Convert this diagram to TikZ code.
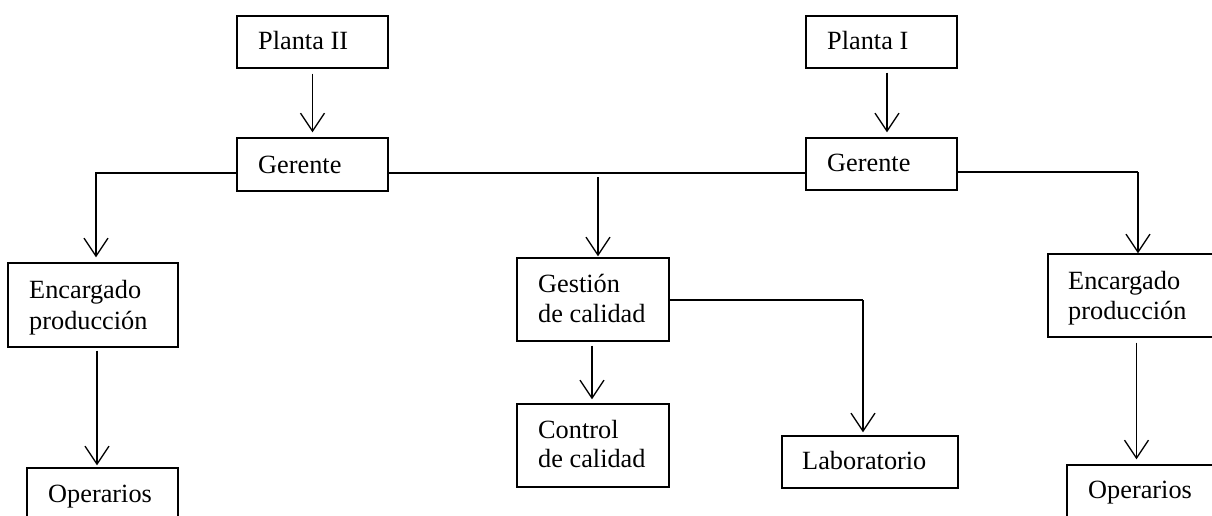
\documentclass[tikz,border=0pt]{standalone}
\usepackage{fontspec}
\setmainfont{Liberation Serif}
\usetikzlibrary{arrows.meta}
\begin{document}
\begin{tikzpicture}[x=1pt,y=-1pt,
  box/.style={draw, line width=1.4pt, rectangle, inner sep=0pt},
  lbl/.style={anchor=base west, inner sep=0pt, font=\fontsize{26.3}{30.5}\selectfont},
  arr/.style={line width=1.3pt, -{Straight Barb[length=18pt,width=24pt,line width=1.3pt]}},
  link/.style={line width=1.5pt},
  trunk/.style={line width=2.2pt}]
\useasboundingbox (0,0) rectangle (1212,516);
\clip (0,0) rectangle (1212,516);

% boxes
\node[box, minimum width=151pt, minimum height=52pt] (p2) at (312.5,42) {};
\node[box, minimum width=151pt, minimum height=53pt] (g2) at (312.5,164.5) {};
\node[box, minimum width=151pt, minimum height=52pt] (p1) at (881.5,42) {};
\node[box, minimum width=151pt, minimum height=52pt] (g1) at (881.5,164) {};
\node[box, minimum width=170pt, minimum height=84pt] (e2) at (93,305) {};
\node[box, minimum width=151pt, minimum height=70pt] (o2) at (102.5,503) {};
\node[box, minimum width=152pt, minimum height=83pt] (gc) at (593,299.5) {};
\node[box, minimum width=152pt, minimum height=83pt] (cc) at (593,445.5) {};
\node[box, minimum width=176pt, minimum height=52pt] (lab) at (870,462) {};
\node[box, minimum width=177pt, minimum height=83pt] (e1) at (1136.5,295.5) {};
\node[box, minimum width=158pt, minimum height=70pt] (o1) at (1146,500) {};

% labels, one node per line
\node[lbl] at (258,50) {Planta II};
\node[lbl] at (258,173) {Gerente};
\node[lbl] at (827,50) {Planta I};
\node[lbl] at (827,171) {Gerente};
\node[lbl] at (29,298) {Encargado};
\node[lbl] at (29,329) {producción};
\node[lbl] at (48,502) {Operarios};
\node[lbl] at (538,292) {Gestión};
\node[lbl] at (538,322) {de calidad};
\node[lbl] at (538,438) {Control};
\node[lbl] at (538,467) {de calidad};
\node[lbl] at (802,469) {Laboratorio};
\node[lbl] at (1068,289) {Encargado};
\node[lbl] at (1068,319) {producción};
\node[lbl] at (1088,498) {Operarios};

% bend points
\coordinate (kl) at (96,173);
\coordinate (kc) at (598,177);
\coordinate (kr) at (1138,172);
\coordinate (kg) at (863,300);

% connectors
\draw[arr, shorten <=5pt, shorten >=5pt] (p2.south) -- (g2.north);
\draw[arr, shorten <=4pt, shorten >=5pt] ([xshift=5.5pt]p1.south) -- ([xshift=5.5pt]g1.north);
\draw[trunk] (g2.west |- kl) -- (kl) -- ++(0,10);
\draw[arr, line width=1.6pt] (kl) -- ([xshift=3pt,yshift=5pt]e2.north);
\draw[trunk] (g2.east |- kl) -- (g1.west |- kl);
\draw[arr] (kc) -- ([xshift=5pt,yshift=1pt]gc.north);
\draw[link] (g1.east |- kr) -- (kr);
\draw[arr] (kr) -- ([xshift=1.5pt]e1.north);
\draw[link] (gc.east |- kg) -- (kg);
\draw[arr] (kg) -- ([xshift=-7pt,yshift=3pt]lab.north);
\draw[arr, shorten <=4pt, shorten >=4pt] ([xshift=-1pt]gc.south) -- ([xshift=-1pt]cc.north);
\draw[arr, shorten <=3pt, shorten >=2pt] ([xshift=4pt]e2.south) -- ([xshift=-5.5pt]o2.north);
\draw[arr, shorten <=5pt] (e1.south) -- ([xshift=-9.5pt,yshift=5pt]o1.north);
\end{tikzpicture}
\end{document}
